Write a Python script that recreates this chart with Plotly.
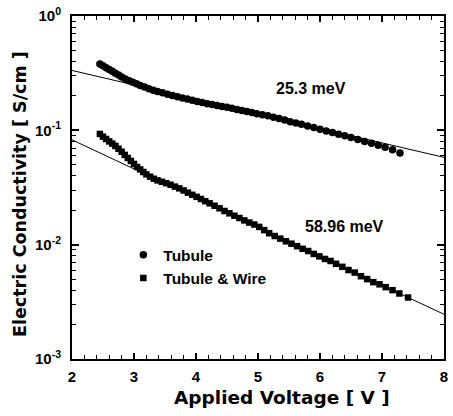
import math
import plotly.graph_objects as go

# ---- data ----
tubule_v = [2.45, 2.50, 2.55, 2.60, 2.65, 2.70, 2.75, 2.80, 2.86, 2.92, 2.98, 3.04, 3.10, 3.17,
            3.24, 3.31, 3.38, 3.46, 3.54, 3.62, 3.70, 3.78, 3.86, 3.94, 4.02, 4.10, 4.18, 4.26,
            4.34, 4.42, 4.50, 4.58, 4.66, 4.74, 4.82, 4.90, 4.98, 5.07, 5.16, 5.25, 5.34, 5.43,
            5.52, 5.61, 5.70, 5.80, 5.90, 6.00, 6.10, 6.20, 6.30, 6.40, 6.50, 6.61, 6.72, 6.83,
            6.94, 7.05, 7.17, 7.29]
tubule_s = [0.381, 0.367, 0.353, 0.340, 0.328, 0.316, 0.304, 0.292, 0.281, 0.272, 0.263, 0.255,
            0.247, 0.239, 0.231, 0.224, 0.219, 0.213, 0.207, 0.202, 0.197, 0.192, 0.1875, 0.183,
            0.179, 0.175, 0.171, 0.168, 0.165, 0.162, 0.159, 0.156, 0.152, 0.149, 0.146, 0.143,
            0.140, 0.137, 0.134, 0.130, 0.127, 0.123, 0.119, 0.116, 0.113, 0.109, 0.106, 0.102,
            0.0985, 0.0955, 0.0925, 0.0895, 0.0865, 0.0833, 0.0800, 0.0770, 0.0740, 0.0710,
            0.0675, 0.0635]

wire_v = [2.45, 2.50, 2.55, 2.60, 2.65, 2.70, 2.75, 2.80, 2.85, 2.90, 2.95, 3.00, 3.05, 3.10,
          3.15, 3.20, 3.26, 3.32, 3.38, 3.45, 3.52, 3.59, 3.66, 3.73, 3.80, 3.87, 3.94, 4.01,
          4.08, 4.15, 4.22, 4.30, 4.38, 4.46, 4.54, 4.62, 4.70, 4.78, 4.86, 4.94, 5.02, 5.10,
          5.18, 5.27, 5.36, 5.45, 5.54, 5.63, 5.72, 5.81, 5.90, 5.99, 6.08, 6.17, 6.26, 6.36,
          6.46, 6.56, 6.66, 6.76, 6.86, 6.96, 7.06, 7.17, 7.28, 7.42]
wire_s = [0.0930, 0.0880, 0.0840, 0.0800, 0.0765, 0.0730, 0.0690, 0.0650, 0.0610, 0.0573,
          0.0540, 0.0508, 0.0478, 0.0455, 0.0432, 0.0412, 0.0393, 0.0377, 0.0365, 0.0355,
          0.0345, 0.0334, 0.0322, 0.0311, 0.0298, 0.0285, 0.0273, 0.0262, 0.0251, 0.0240,
          0.0230, 0.0219, 0.0208, 0.0197, 0.0188, 0.0179, 0.0171, 0.0163, 0.0156, 0.0150,
          0.0143, 0.0134, 0.0126, 0.0119, 0.0113, 0.0107, 0.0102, 0.0097, 0.0092, 0.0088,
          0.0083, 0.0079, 0.0075, 0.0072, 0.0068, 0.0064, 0.0060, 0.0057, 0.0053, 0.0050,
          0.0047, 0.0045, 0.00425, 0.0040, 0.00374, 0.00345]

fit_v = [2, 8]
fit_upper = [0.334, 0.058]
fit_lower = [0.0826, 0.00246]

labels = ["25.3 meV", "58.96 meV"]
label_v = [5.85, 6.40]
label_s = [0.233, 0.0145]

y_tickvals = [1, 0.1, 0.01, 0.001]
y_ticktext = ["10<sup>0</sup>", "10<sup>-1</sup>", "10<sup>-2</sup>", "10<sup>-3</sup>"]

FONT = "Arial, Liberation Sans, sans-serif"
WIDE = "DejaVu Sans, sans-serif"

fig = go.Figure()
fig.add_trace(go.Scatter(x=fit_v, y=fit_upper, mode="lines", line=dict(color="black", width=1),
                         showlegend=False, hoverinfo="skip"))
fig.add_trace(go.Scatter(x=fit_v, y=fit_lower, mode="lines", line=dict(color="black", width=1),
                         showlegend=False, hoverinfo="skip"))
fig.add_trace(go.Scatter(x=tubule_v, y=tubule_s, mode="markers", name="<b>Tubule</b>",
                         marker=dict(symbol="circle", size=7.5, color="black")))
fig.add_trace(go.Scatter(x=wire_v, y=wire_s, mode="markers", name="<b>Tubule &amp; Wire</b>",
                         marker=dict(symbol="square", size=6.5, color="black")))

for t, v, s in zip(labels, label_v, label_s):
    fig.add_annotation(x=v, y=math.log10(s), text="<b>" + t + "</b>", showarrow=False,
                       xanchor="center", yanchor="middle",
                       font=dict(family=FONT, size=16, color="black"))

fig.add_annotation(xref="paper", yref="paper", x=0.564, y=-0.113, text="<b>Applied Voltage [ V ]</b>",
                   xanchor="center", yanchor="middle",
                   showarrow=False, font=dict(family=WIDE, size=18.5, color="black"))
fig.add_annotation(xref="paper", yref="paper", x=-0.138, y=0.48,
                   text="<b>Electric Conductivity [ S/cm ]</b>", xanchor="center", yanchor="middle",
                   textangle=-90, showarrow=False, font=dict(family=WIDE, size=17.5, color="black"))

minor_y = [m * 10 ** e for e in range(-3, 0) for m in range(2, 10)]

fig.update_xaxes(range=[2, 8], dtick=1, tick0=2, ticks="inside", ticklen=6, tickwidth=1.5,
                 tickcolor="black", showline=True, linecolor="black", linewidth=2,
                 mirror="allticks", showgrid=False, zeroline=False, ticklabelstandoff=3,
                 tickfont=dict(family=FONT, size=15, color="black", weight="bold"),
                 minor=dict(ticks="inside", dtick=0.2, tick0=2, ticklen=4, tickcolor="black",
                            tickwidth=1, showgrid=False))
fig.update_yaxes(type="log", range=[-3, 0], tickvals=y_tickvals, ticktext=y_ticktext,
                 ticks="inside", ticklen=7, tickwidth=1.5, tickcolor="black",
                 showline=True, linecolor="black", linewidth=2, mirror="allticks",
                 showgrid=False, zeroline=False, ticklabelstandoff=6,
                 tickfont=dict(family=FONT, size=15, color="black", weight="bold"),
                 minor=dict(ticks="inside", tickvals=minor_y, ticklen=4, tickcolor="black",
                            tickwidth=1, showgrid=False))

fig.update_layout(
    width=453, height=416,
    margin=dict(l=72, r=5, t=13, b=57),
    paper_bgcolor="white", plot_bgcolor="white",
    font=dict(family=FONT, size=16, color="black"),
    legend=dict(x=0.138, y=0.352, xanchor="left", yanchor="top", bgcolor="rgba(0,0,0,0)",
                font=dict(family=FONT, size=15.5, color="black"), tracegroupgap=0,
                itemwidth=30),
    showlegend=True,
)

fig.write_html("out.html")
